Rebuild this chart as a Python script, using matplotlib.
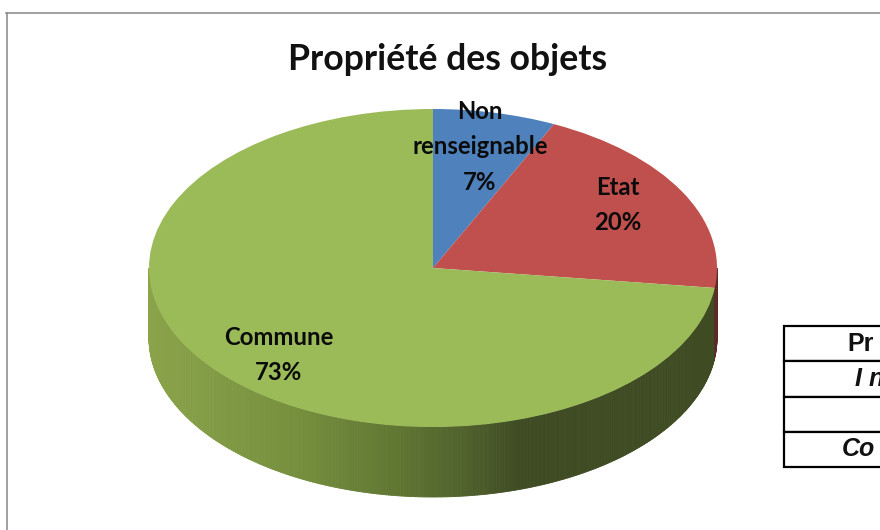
import numpy as np
import matplotlib
matplotlib.use("Agg")
import matplotlib.pyplot as plt
from matplotlib.lines import Line2D
from matplotlib.collections import PolyCollection
from matplotlib.colors import LinearSegmentedColormap

title = "Propriété des objets"
labels = ["Non\nrenseignable", "Etat", "Commune"]
values = [7, 20, 73]
colors = ["#4F81BD", "#C0504D", "#9BBB59"]
table_rows = ["Pr", "I n", "", "Co"]

W, H = 880, 530
CX, CY, RX, RY, DEPTH = 433, 268, 284, 159, 70

fig = plt.figure(figsize=(W / 100, H / 100), dpi=100, facecolor="white")
ax = fig.add_axes([0, 0, 1, 1])
wedges, _ = ax.pie(values, colors=colors, startangle=90, counterclock=False,
                   wedgeprops=dict(linewidth=0, zorder=3))
ax.set_aspect("auto")
ax.set_xlim((0 - CX) / RX, (W - CX) / RX)
ax.set_ylim((CY - H) / RY, CY / RY)
ax.axis("off")

# side wall of the disc, shaded along x
d = DEPTH / RY
wall = LinearSegmentedColormap.from_list("wall", [
    (0.00, "#8BA44A"), (0.27, "#748E3D"), (0.44, "#5F7632"),
    (0.565, "#4F602C"), (0.65, "#3F4C23"), (1.00, "#3F4C23")])
cum = 90 - 360 * np.cumsum(values) / np.sum(values)
th = np.radians(np.linspace(180, 360, 361))
polys, cols = [], []
for a, b in zip(th[:-1], th[1:]):
    polys.append([(np.cos(a), np.sin(a)), (np.cos(b), np.sin(b)),
                  (np.cos(b), np.sin(b) - d), (np.cos(a), np.sin(a) - d)])
    mid = (np.cos((a + b) / 2) + 1) / 2
    in_red = np.degrees((a + b) / 2) > 360 + cum[1]
    cols.append("#5E2A26" if in_red else wall(mid))
ax.add_collection(PolyCollection(polys, facecolors=cols, edgecolors=cols,
                                 linewidths=0.6, zorder=2))

# labels
label_pos = [(480, 147), (618, 205), (279, 355)]
for lab, val, (px, py) in zip(labels, values, label_pos):
    ax.text((px - CX) / RX, (CY - py) / RY, f"{lab}\n{val}%", ha="center", va="center",
            family="Lato", fontsize=17.2, weight="bold", color="#0B0B0B",
            linespacing=1.64, zorder=5)

fig.text(448 / W, 1 - 60 / H, title, ha="center", va="center", family="Lato",
         fontsize=25.7, weight="bold", color="#111111")

# chart frame, running off the crop
frame = "#868686"
fig.add_artist(Line2D([6.5 / W, 6.5 / W], [0, 1 - 13 / H], color=frame, lw=1.1))
fig.add_artist(Line2D([6 / W, 1], [1 - 13 / H] * 2, color=frame, lw=1.1))

# cropped table
TL, TT, TB, TW = 784, 326, 467, 220
tax = fig.add_axes([TL / W, 1 - TB / H, TW / W, (TB - TT) / H])
tax.axis("off")
tbl = tax.table(cellText=[[r] for r in table_rows], cellLoc="left", bbox=[0, 0, 1, 1])
tbl.auto_set_font_size(False)
starts = [847, 855, 847, 842]
for i, x0 in enumerate(starts):
    c = tbl[(i, 0)]
    c.PAD = (x0 - TL) / TW
    c.set_linewidth(1.6)
    c.set_edgecolor("black")
    c.get_text().set(family="Liberation Sans", fontsize=18, weight="bold",
                     style="normal" if i == 0 else "italic", color="#111111")

fig.savefig("out.png", dpi=100)
